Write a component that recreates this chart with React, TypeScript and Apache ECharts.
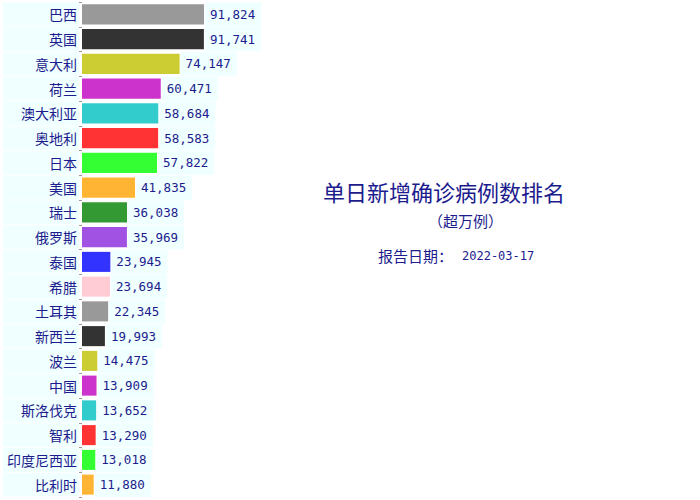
import { useRef, useEffect } from "react";
import * as echarts from "echarts";

const countries = [
  "巴西", "英国", "意大利", "荷兰", "澳大利亚", "奥地利", "日本", "美国", "瑞士", "俄罗斯",
  "泰国", "希腊", "土耳其", "新西兰", "波兰", "中国", "斯洛伐克", "智利", "印度尼西亚", "比利时",
];
const dailyCases = [
  91824, 91741, 74147, 60471, 58684, 58583, 57822, 41835, 36038, 35969,
  23945, 23694, 22345, 19993, 14475, 13909, 13652, 13290, 13018, 11880,
];
const palette = [
  "#999999", "#333333", "#cccc33", "#cc33cc", "#33cccc", "#ff3333",
  "#33ff33", "#ffb533", "#339933", "#a152e3", "#3333ff", "#ffccd5",
];
const titleText = "单日新增确诊病例数排名";
const subText = "（超万例）";
const dateLabel = "报告日期：";
const reportDate = "2022-03-17";

const navy = "#1c1c8e";
const azure = "#f0ffff";

const App = () => {
  const chartRef = useRef<HTMLDivElement>(null);
  useEffect(() => {
    if (!chartRef.current) return;
    const myChart = echarts.init(chartRef.current, undefined, { renderer: "svg" });
    const option = {
      animation: false,
      grid: { left: 79, top: 2, bottom: 3, width: 125 },
      xAxis: {
        type: "value",
        show: false,
        min: 3390,
        max: 91824,
      },
      yAxis: {
        type: "category",
        inverse: true,
        data: countries,
        axisLine: { show: false },
        axisTick: { show: true, length: 3, lineStyle: { color: "#999" } },
        axisLabel: {
          margin: 3,
          width: 72,
          align: "right",
          fontSize: 14,
          fontFamily: "Noto Sans CJK SC",
          color: navy,
          backgroundColor: azure,
          padding: [5, 2, 5, 2],
        },
      },
      series: [
        {
          type: "bar",
          data: dailyCases,
          barCategoryGap: "19%",
          itemStyle: {
            color: (p: any) => palette[p.dataIndex % palette.length],
          },
          label: {
            show: true,
            position: "right",
            distance: 1,
            fontSize: 12.5,
            fontFamily: "DejaVu Sans Mono",
            color: navy,
            backgroundColor: azure,
            padding: [6, 6, 5, 5],
            formatter: (p: any) => Number(p.value).toLocaleString("en-US"),
          },
        },
      ],
      graphic: [
        {
          type: "text",
          left: 323,
          top: 180,
          style: {
            text: titleText,
            fontSize: 22,
            fontFamily: "Noto Sans CJK SC",
            fill: navy,
          },
        },
        {
          type: "text",
          left: 428,
          top: 213,
          style: {
            text: subText,
            fontSize: 15,
            fontFamily: "Noto Sans CJK SC",
            fill: navy,
          },
        },
        {
          type: "text",
          left: 378,
          top: 248,
          style: {
            text: dateLabel,
            fontSize: 15,
            fontFamily: "Noto Sans CJK SC",
            fill: navy,
          },
        },
        {
          type: "text",
          left: 462,
          top: 250,
          style: {
            text: reportDate,
            fontSize: 12,
            fontFamily: "DejaVu Sans Mono",
            fill: navy,
          },
        },
      ],
    };
    myChart.setOption(option as any);
    return () => {
      myChart.dispose();
    };
  }, []);

  return (
    <div
      ref={chartRef}
      style={{ position: "absolute", left: 0, top: 0, width: 700, height: 500 }}
    ></div>
  );
};

export default App;
